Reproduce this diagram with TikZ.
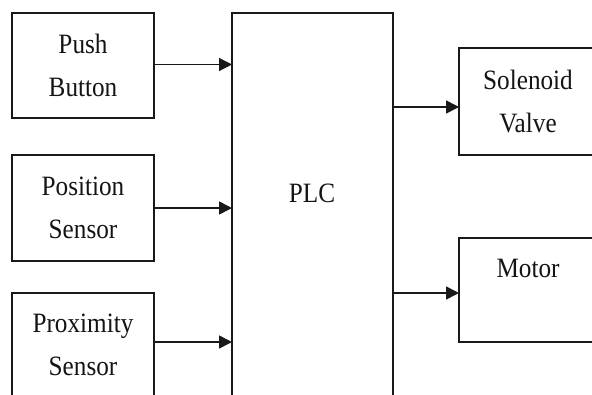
\documentclass[tikz,border=0pt]{standalone}
\usepackage{fontspec}
\setmainfont{Liberation Serif}[FakeStretch=0.9]
\usetikzlibrary{arrows.meta}
\tikzset{
  box/.style={draw=black!90, line width=1.6pt, rectangle, inner sep=0pt, outer sep=0pt,
    align=center, font=\fontsize{28}{43}\selectfont, text=black!92},
  arr/.style={line width=1.6pt, draw=black!90, -{Triangle[length=13pt,width=13pt]}},
  lbl/.style={font=\fontsize{28}{43}\selectfont, text=black!92, inner sep=0pt}
}
\begin{document}
\begin{tikzpicture}[x=1pt,y=-1pt]
\clip (0,0) rectangle (592,394);
\fill[white] (0,0) rectangle (592,394);
\node[box, minimum width=142pt, minimum height=105pt] (push) at (83,65.5) {Push\\Button};
\node[box, minimum width=142pt, minimum height=106pt] (pos) at (83,208) {Position\\Sensor};
\node[box, minimum width=142pt, minimum height=104pt] (prox) at (83,345) {Proximity\\Sensor};
\node[box, minimum width=161pt, minimum height=407pt] (plc) at (312.5,216.5) {};
\node[lbl] (plcl) at (312,193) {PLC};
\node[box, minimum width=138pt, minimum height=107pt] (sol) at (528,101.5) {Solenoid\\Valve};
\node[box, minimum width=138pt, minimum height=104pt] (mot) at (528,290) {Motor\\\phantom{X}};
\coordinate (pushout) at ([yshift=1pt]push.east);
\coordinate (proxout) at ([yshift=3pt]prox.east);
\coordinate (solin) at ([yshift=-5.5pt]sol.west);
\coordinate (motin) at ([yshift=-3pt]mot.west);
\draw[arr, line width=1.2pt] (pushout) -- (plc.west |- pushout);
\draw[arr] (pos.east) -- (plc.west |- pos.east);
\draw[arr] (proxout) -- (plc.west |- proxout);
\draw[arr] (plc.east |- solin) -- (solin);
\draw[arr] (plc.east |- motin) -- (motin);
\end{tikzpicture}
\end{document}
